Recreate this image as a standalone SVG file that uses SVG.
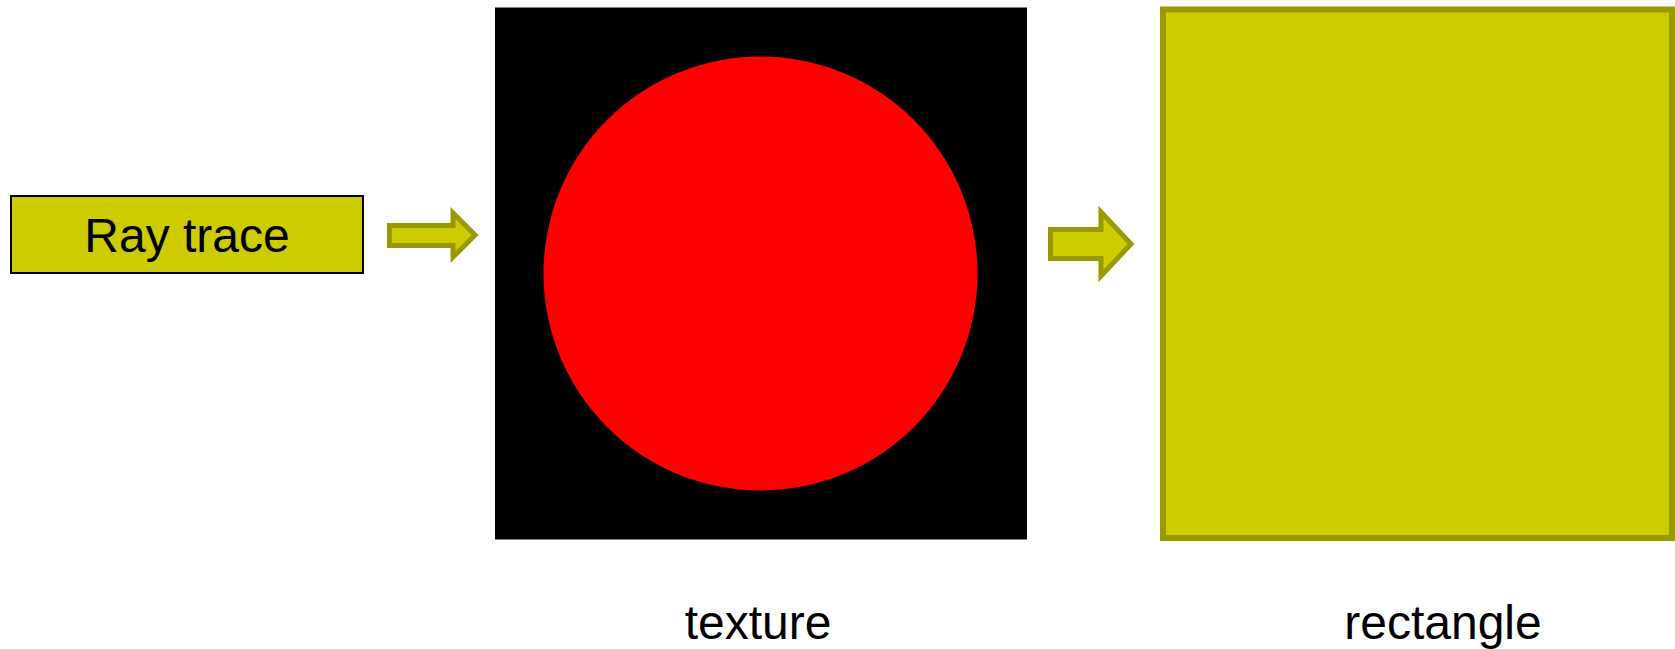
<svg xmlns="http://www.w3.org/2000/svg" width="1675" height="649" viewBox="0 0 1675 649">
<style>
.lbl{font-family:"Liberation Sans",Arial,sans-serif;font-size:48px;fill:#000;text-anchor:middle}
.arrow{fill:#CCCC00;stroke:#999900;stroke-width:5;stroke-linejoin:miter}
</style>
<rect width="1675" height="649" fill="#fff"/>
<g id="raytrace">
<rect x="11" y="196" width="352" height="77" fill="#CCCC00" stroke="#000" stroke-width="2"/>
<text class="lbl" x="187" y="252">Ray trace</text>
</g>
<g id="texture">
<rect x="495" y="7.5" width="532" height="532" fill="#000"/>
<circle cx="760.5" cy="273.5" r="217" fill="#FF0000"/>
<text class="lbl" x="758" y="639">texture</text>
</g>
<g id="rectangle">
<rect x="1163" y="9.5" width="509" height="528.5" fill="#CCCC00" stroke="#999900" stroke-width="6"/>
<text class="lbl" x="1443" y="639">rectangle</text>
</g>
<g id="connectors">
<path class="arrow" d="M389.5,225.5 H453 V213 L475,235 L453,257 V245.5 H389.5 Z"/>
<path class="arrow" d="M1050.5,229.5 H1101 V212 L1131,244 L1101,276 V258.5 H1050.5 Z"/>
</g>
</svg>
